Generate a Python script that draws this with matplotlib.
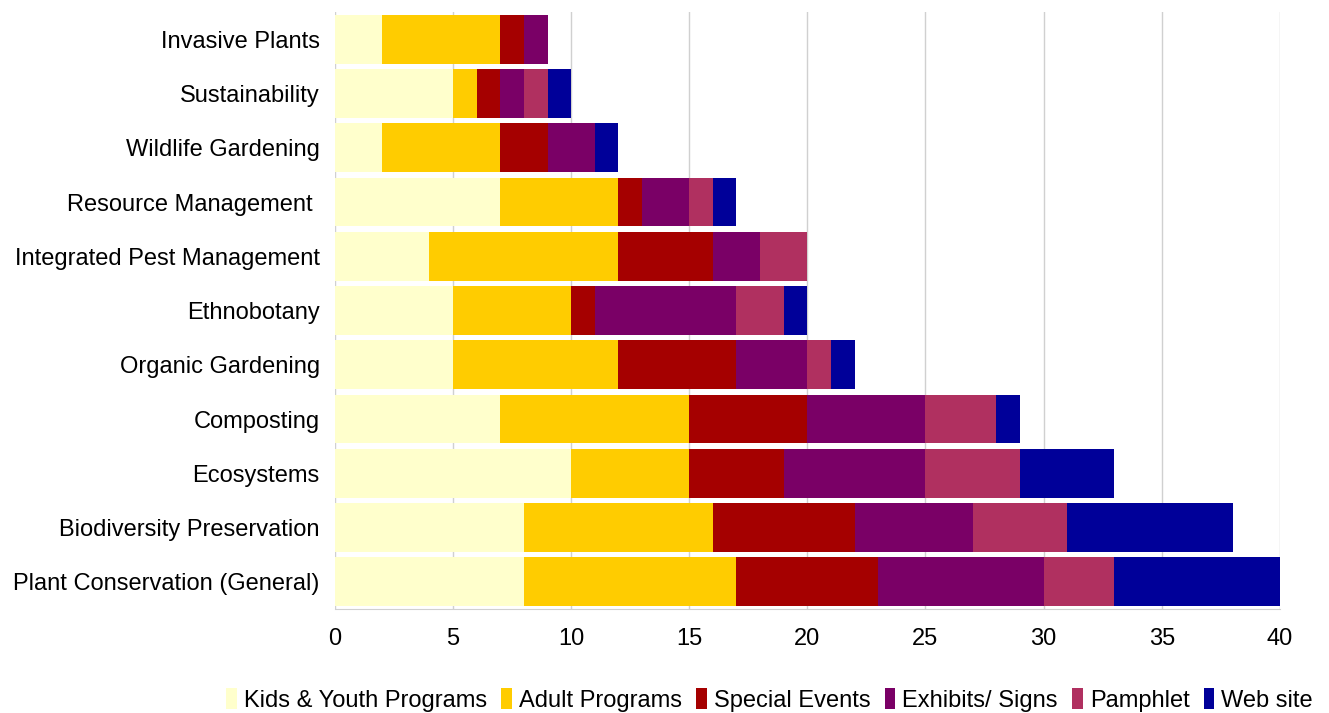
import matplotlib.pyplot as plt
import numpy as np

plt.rcParams['font.family'] = ['Liberation Sans', 'DejaVu Sans']

topics = ["Plant Conservation (General)", "Biodiversity Preservation", "Ecosystems",
          "Composting", "Organic Gardening", "Ethnobotany", "Integrated Pest Management",
          "Resource Management ", "Wildlife Gardening", "Sustainability", "Invasive Plants"]

kids = [8, 8, 10, 7, 5, 5, 4, 7, 2, 5, 2]
adult = [9, 8, 5, 8, 7, 5, 8, 5, 5, 1, 5]
special = [6, 6, 4, 5, 5, 1, 4, 1, 2, 1, 1]
exhibits = [7, 5, 6, 5, 3, 6, 2, 2, 2, 1, 1]
pamphlet = [3, 4, 4, 3, 1, 2, 2, 1, 0, 1, 0]
website = [7, 7, 4, 1, 1, 1, 0, 1, 1, 1, 0]

series = [("Kids & Youth Programs", kids, "#FFFFCC"),
          ("Adult Programs", adult, "#FFCC00"),
          ("Special Events", special, "#A50000"),
          ("Exhibits/ Signs", exhibits, "#7A0066"),
          ("Pamphlet", pamphlet, "#B03060"),
          ("Web site", website, "#000099")]

fig = plt.figure(figsize=(13.29, 7.13), dpi=100)
ax = fig.add_axes([0.252, 0.146, 0.711, 0.837])

y = np.arange(len(topics))
left = np.zeros(len(topics))
for name, vals, color in series:
    ax.barh(y, vals, left=left, height=0.9, color=color, label=name, zorder=3)
    left += np.array(vals)

ax.set_xlim(0, 40)
ax.set_ylim(-0.5, len(topics) - 0.5)
ax.set_xticks(range(0, 41, 5))
ax.set_yticks(y)
ax.set_yticklabels(topics)
ax.tick_params(axis='both', length=0, labelsize=17)
ax.tick_params(axis='x', pad=14)
ax.tick_params(axis='y', pad=11)
ax.grid(axis='x', color='#D0D0D0', linewidth=1, zorder=0)
for s in ['top', 'right', 'left']:
    ax.spines[s].set_visible(False)
ax.spines['bottom'].set_color('#D0D0D0')

fig.legend(loc='lower right', bbox_to_anchor=(1.004, -0.028), ncol=6, frameon=False,
           fontsize=17, handlelength=0.45, handleheight=1.0, handletextpad=0.3,
           columnspacing=0.6)

fig.savefig("out.png", dpi=100)
